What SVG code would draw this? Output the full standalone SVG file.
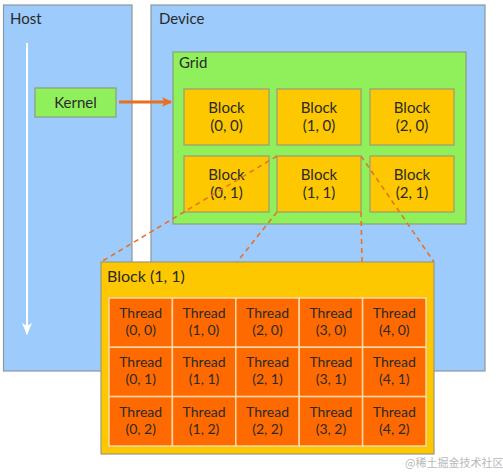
<svg xmlns="http://www.w3.org/2000/svg" width="503" height="472" viewBox="0 0 503 472">
<defs>
<style>
text{font-family:Lato,"Noto Sans","Liberation Sans",sans-serif;fill:#2a2a2a}
.pane{fill:#9dcbfb;stroke:#8e969e;stroke-width:1.2}
.grid{fill:#90f05c;stroke:#8aa07a;stroke-width:1.2}
.blk{fill:#fec800;stroke:#9a9a7a;stroke-width:1.2}
.thr{fill:#ff6a00;stroke:#f6d8a8;stroke-width:1.5}
.t15{font-size:15px;text-anchor:middle}
.t14{font-size:14px;text-anchor:middle}
.lbl{font-size:15px}
.dash{stroke:#e5732a;stroke-width:1.6;stroke-dasharray:5,4;fill:none}
</style>
<marker id="ah-o" markerWidth="10" markerHeight="10" refX="9" refY="5" orient="auto" markerUnits="userSpaceOnUse"><path d="M0,0 L10,5 L0,10 L2.5,5 z" fill="#e8701e"/></marker>
<marker id="ah-w" markerWidth="12" markerHeight="10" refX="11" refY="5" orient="auto" markerUnits="userSpaceOnUse"><path d="M0,0 L12,5 L0,10 L3,5 z" fill="#ffffff"/></marker>
</defs>

<g id="host">
<rect class="pane" x="3.5" y="5" width="128.5" height="366"/>
<text class="lbl" x="10" y="24">Host</text>
</g>
<g id="device">
<rect class="pane" x="151" y="5" width="334" height="366"/>
<text class="lbl" x="159" y="24">Device</text>
</g>
<g id="grid">
<rect class="grid" x="173" y="52" width="293" height="172"/>
<text class="lbl" x="179" y="68">Grid</text>
</g>
<g id="kernel">
<rect class="grid" x="35" y="88" width="81" height="29"/>
<text class="t15" x="75.5" y="107.5">Kernel</text>
</g>

<g id="block-0-0"><rect class="blk" x="184" y="89" width="85" height="56"/><text class="t15" x="226.5" y="113">Block</text><text class="t15" x="226.5" y="131">(0, 0)</text></g>
<g id="block-1-0"><rect class="blk" x="277" y="89" width="84" height="56"/><text class="t15" x="319" y="113">Block</text><text class="t15" x="319" y="131">(1, 0)</text></g>
<g id="block-2-0"><rect class="blk" x="370" y="89" width="84" height="56"/><text class="t15" x="412" y="113">Block</text><text class="t15" x="412" y="131">(2, 0)</text></g>
<g id="block-0-1"><rect class="blk" x="184" y="156" width="85" height="56"/><text class="t15" x="226.5" y="180">Block</text><text class="t15" x="226.5" y="198">(0, 1)</text></g>
<g id="block-1-1"><rect class="blk" x="277" y="156" width="84" height="56"/><text class="t15" x="319" y="180">Block</text><text class="t15" x="319" y="198">(1, 1)</text></g>
<g id="block-2-1"><rect class="blk" x="370" y="156" width="84" height="56"/><text class="t15" x="412" y="180">Block</text><text class="t15" x="412" y="198">(2, 1)</text></g>

<g id="connectors">
<line x1="27" y1="43" x2="27" y2="334" stroke="#ffffff" stroke-width="2" marker-end="url(#ah-w)"/>
<line x1="119" y1="102" x2="171" y2="102" stroke="#e8701e" stroke-width="3" marker-end="url(#ah-o)"/>
<line class="dash" x1="277" y1="156" x2="101" y2="262"/>
<line class="dash" x1="277" y1="212" x2="237" y2="262"/>
<line class="dash" x1="361" y1="212" x2="362" y2="262"/>
<line class="dash" x1="361" y1="156" x2="434" y2="262"/>
</g>

<g id="block-detail">
<rect class="blk" x="101" y="262" width="333" height="192"/>
<text class="lbl" x="107" y="282" style="font-size:16px">Block (1, 1)</text>
</g>

<g id="thread-0-0"><rect class="thr" x="109" y="298" width="63.4" height="49.3"/><text class="t14" x="140.7" y="318">Thread</text><text class="t14" x="140.7" y="335">(0, 0)</text></g>
<g id="thread-1-0"><rect class="thr" x="172.4" y="298" width="63.4" height="49.3"/><text class="t14" x="204.1" y="318">Thread</text><text class="t14" x="204.1" y="335">(1, 0)</text></g>
<g id="thread-2-0"><rect class="thr" x="235.8" y="298" width="63.4" height="49.3"/><text class="t14" x="267.5" y="318">Thread</text><text class="t14" x="267.5" y="335">(2, 0)</text></g>
<g id="thread-3-0"><rect class="thr" x="299.2" y="298" width="63.4" height="49.3"/><text class="t14" x="330.9" y="318">Thread</text><text class="t14" x="330.9" y="335">(3, 0)</text></g>
<g id="thread-4-0"><rect class="thr" x="362.6" y="298" width="63.4" height="49.3"/><text class="t14" x="394.3" y="318">Thread</text><text class="t14" x="394.3" y="335">(4, 0)</text></g>

<g id="thread-0-1"><rect class="thr" x="109" y="347.3" width="63.4" height="49.3"/><text class="t14" x="140.7" y="367.3">Thread</text><text class="t14" x="140.7" y="384.3">(0, 1)</text></g>
<g id="thread-1-1"><rect class="thr" x="172.4" y="347.3" width="63.4" height="49.3"/><text class="t14" x="204.1" y="367.3">Thread</text><text class="t14" x="204.1" y="384.3">(1, 1)</text></g>
<g id="thread-2-1"><rect class="thr" x="235.8" y="347.3" width="63.4" height="49.3"/><text class="t14" x="267.5" y="367.3">Thread</text><text class="t14" x="267.5" y="384.3">(2, 1)</text></g>
<g id="thread-3-1"><rect class="thr" x="299.2" y="347.3" width="63.4" height="49.3"/><text class="t14" x="330.9" y="367.3">Thread</text><text class="t14" x="330.9" y="384.3">(3, 1)</text></g>
<g id="thread-4-1"><rect class="thr" x="362.6" y="347.3" width="63.4" height="49.3"/><text class="t14" x="394.3" y="367.3">Thread</text><text class="t14" x="394.3" y="384.3">(4, 1)</text></g>

<g id="thread-0-2"><rect class="thr" x="109" y="396.6" width="63.4" height="49.4"/><text class="t14" x="140.7" y="416.6">Thread</text><text class="t14" x="140.7" y="433.6">(0, 2)</text></g>
<g id="thread-1-2"><rect class="thr" x="172.4" y="396.6" width="63.4" height="49.4"/><text class="t14" x="204.1" y="416.6">Thread</text><text class="t14" x="204.1" y="433.6">(1, 2)</text></g>
<g id="thread-2-2"><rect class="thr" x="235.8" y="396.6" width="63.4" height="49.4"/><text class="t14" x="267.5" y="416.6">Thread</text><text class="t14" x="267.5" y="433.6">(2, 2)</text></g>
<g id="thread-3-2"><rect class="thr" x="299.2" y="396.6" width="63.4" height="49.4"/><text class="t14" x="330.9" y="416.6">Thread</text><text class="t14" x="330.9" y="433.6">(3, 2)</text></g>
<g id="thread-4-2"><rect class="thr" x="362.6" y="396.6" width="63.4" height="49.4"/><text class="t14" x="394.3" y="416.6">Thread</text><text class="t14" x="394.3" y="433.6">(4, 2)</text></g>

<text x="405" y="467" style="font-size:11px;fill:#b8b8b8;font-family:'Noto Sans CJK SC',sans-serif">@稀土掘金技术社区</text>
</svg>
